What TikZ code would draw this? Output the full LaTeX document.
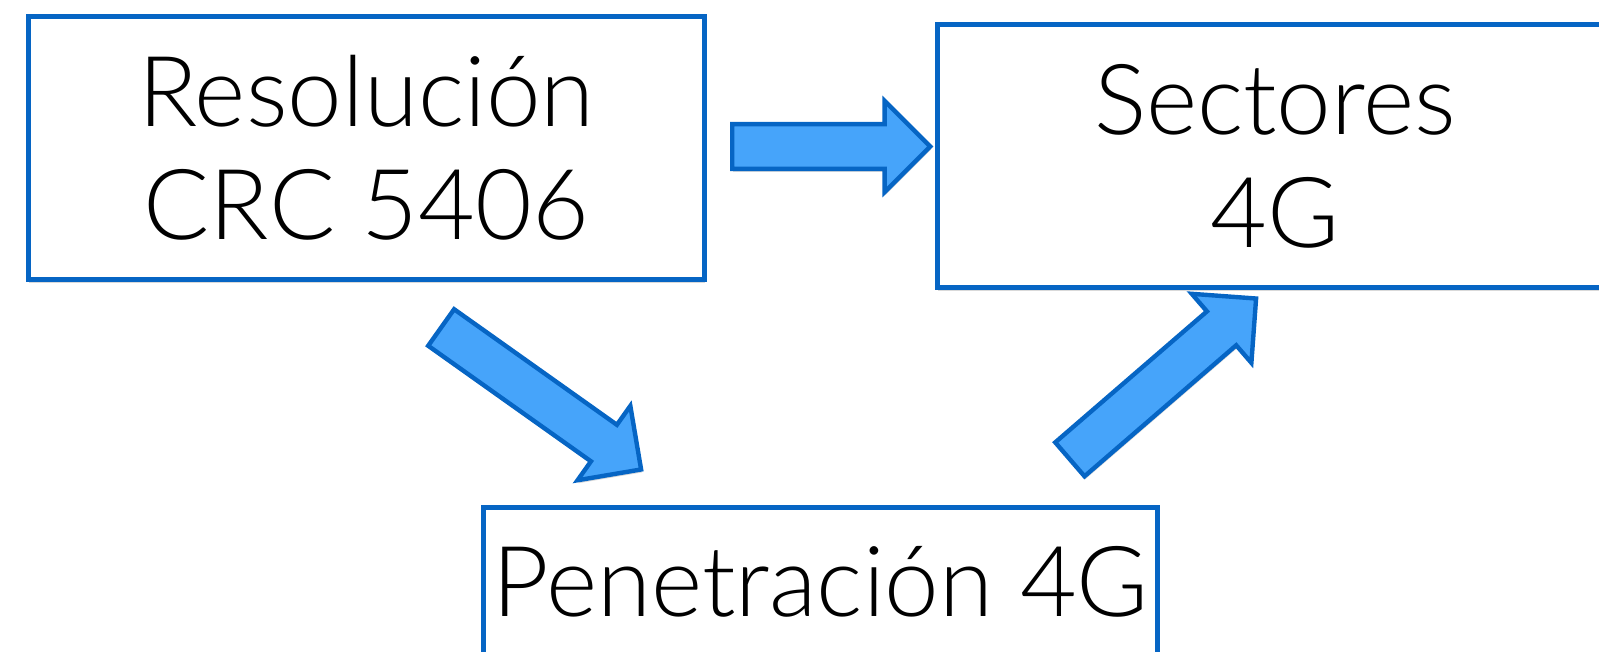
\documentclass[tikz,border=0pt]{standalone}
\usepackage{fontspec}
\IfFontExistsTF{Lato Light}{\setmainfont{Lato Light}}{\setmainfont{Fira Sans Light}[FakeStretch=0.91]}
\usetikzlibrary{calc,shapes.arrows,shadows}
\definecolor{crcBlue}{RGB}{6, 101, 196}
\definecolor{crcLightBlue}{RGB}{70, 164, 250}

% block arrow between two named points
\newcommand{\blockarrow}[2]{%
  \path let \p1=($(#2)-(#1)$), \n1={atan2(\y1,\x1)}, \n2={veclen(\x1,\y1)} in
    node[fatarrow, minimum height=\n2, rotate=\n1] at ($(#1)!0.5!(#2)$) {};}

\begin{document}
\begin{tikzpicture}[x=0.5pt, y=-0.5pt,
    box/.style={draw=crcBlue, fill=white, line width=2.5pt, inner sep=0pt, minimum width=338pt, minimum height=131.5pt,
      align=center, font=\fontsize{49}{56.5}\selectfont,
      drop shadow={shadow xshift=0.4pt, shadow yshift=-1.5pt, opacity=0.3}},
    fatarrow/.style={single arrow, draw=crcBlue, fill=crcLightBlue, line width=2.2pt, inner sep=0pt, inner ysep=10.1pt,
      single arrow head extend=11.6pt, single arrow tip angle=90,
      drop shadow={shadow xshift=0.4pt, shadow yshift=-1.5pt, opacity=0.3}}]
    \useasboundingbox (0,0) rectangle (1599,652);
    \clip (0,0) rectangle (1599,652);

    % Boxes
    \node[box] (res) at (366.5,148) {Resoluci\'{o}n\\CRC 5406};
    \node[box, minimum width=337.5pt] (sec) at (1275,156) {Sectores\\4G};
    \node[box, minimum width=337pt, minimum height=74.5pt] (pen) at (820.5,582) {Penetraci\'{o}n 4G};

    % Arrow ends
    \coordinate (a1s) at (721,146.5);
    \coordinate (a1e) at (919,146.5);
    \coordinate (a2s) at (432,321);
    \coordinate (a2e) at (632,463);
    \coordinate (a3s) at (1061,467);
    \coordinate (a3e) at (1248,305.5);

    % Arrows
    \blockarrow{a1s}{a1e}
    \blockarrow{a2s}{a2e}
    \blockarrow{a3s}{a3e}
\end{tikzpicture}
\end{document}
